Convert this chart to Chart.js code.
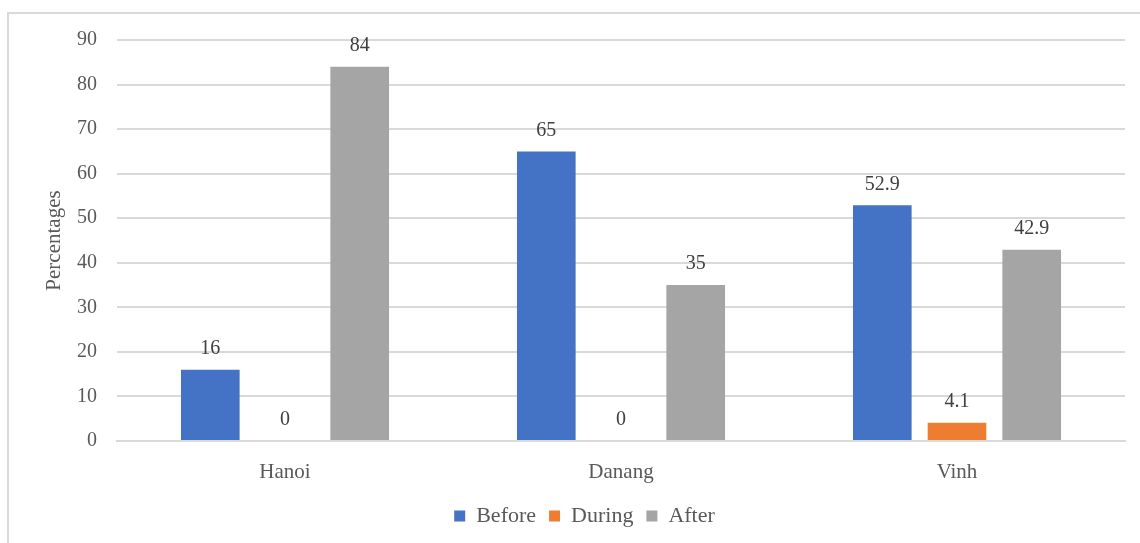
<!DOCTYPE html>
<html>
<head>
<meta charset="utf-8">
<script src="https://cdn.jsdelivr.net/npm/chart.js@4/dist/chart.umd.min.js"></script>
<style>
  html, body { margin: 0; padding: 0; background: #fff; }
  #wrap { position: relative; width: 1140px; height: 543px; }
</style>
</head>
<body>
<div id="wrap"><canvas id="chart"></canvas></div>
<script>
// data
const cities = ['Hanoi', 'Danang', 'Vinh'];
const before = [16, 65, 52.9];
const during = [0, 0, 4.1];
const after = [84, 35, 42.9];
const yTicks = [0, 10, 20, 30, 40, 50, 60, 70, 80, 90];

const FONT = '"Liberation Serif", "Times New Roman", serif';
const TEXT = '#595959';

// 外枠
const framePlugin = {
  id: 'frame',
  beforeDraw(chart) {
    const { ctx } = chart;
    ctx.save();
    ctx.strokeStyle = '#d9d9d9';
    ctx.lineWidth = 2;
    ctx.beginPath();
    ctx.moveTo(8, 560);
    ctx.lineTo(8, 13);
    ctx.lineTo(1160, 13);
    ctx.stroke();
    ctx.restore();
  }
};

// 値ラベル
const valueLabels = {
  id: 'valueLabels',
  afterDatasetsDraw(chart) {
    const { ctx } = chart;
    ctx.save();
    ctx.font = '20px ' + FONT;
    ctx.fillStyle = '#404040';
    ctx.textAlign = 'center';
    ctx.textBaseline = 'middle';
    chart.data.datasets.forEach((ds, i) => {
      chart.getDatasetMeta(i).data.forEach((bar, j) => {
        ctx.fillText(String(ds.data[j]), bar.x, bar.y - 21);
      });
    });
    ctx.restore();
  }
};

new Chart(document.getElementById('chart').getContext('2d'), {
  type: 'bar',
  data: {
    labels: cities,
    datasets: [
      { label: 'Before', data: before, backgroundColor: '#4472C4' },
      { label: 'During', data: during, backgroundColor: '#ED7D31' },
      { label: 'After', data: after, backgroundColor: '#A5A5A5' }
    ]
  },
  options: {
    responsive: true,
    maintainAspectRatio: false,
    animation: false,
    categoryPercentage: 0.667,
    barPercentage: 0.785,
    layout: { padding: { top: 40, right: 15, bottom: 6, left: 44 } },
    scales: {
      x: {
        grid: { display: false },
        border: { display: true, color: '#d9d9d9', width: 2 },
        ticks: { color: TEXT, font: { family: FONT, size: 21 }, padding: 11 },
        afterFit: scale => { scale.height = 51; }
      },
      y: {
        min: 0,
        max: 90,
        afterBuildTicks: scale => { scale.ticks = yTicks.map(v => ({ value: v })); },
        grid: { color: '#d9d9d9', lineWidth: 2, drawTicks: false },
        border: { display: false },
        ticks: { color: TEXT, font: { family: FONT, size: 20 }, padding: 20 },
        title: {
          display: true,
          text: 'Percentages',
          color: TEXT,
          font: { family: FONT, size: 21, lineHeight: 1 },
          padding: { top: 0, bottom: 0 }
        },
        afterFit: scale => { scale.width = 73; }
      }
    },
    plugins: {
      legend: {
        position: 'bottom',
        labels: {
          color: TEXT,
          font: { family: FONT, size: 22 },
          boxWidth: 11,
          boxHeight: 11,
          padding: 13
        }
      },
      tooltip: { enabled: false }
    }
  },
  plugins: [framePlugin, valueLabels]
});
</script>
</body>
</html>
